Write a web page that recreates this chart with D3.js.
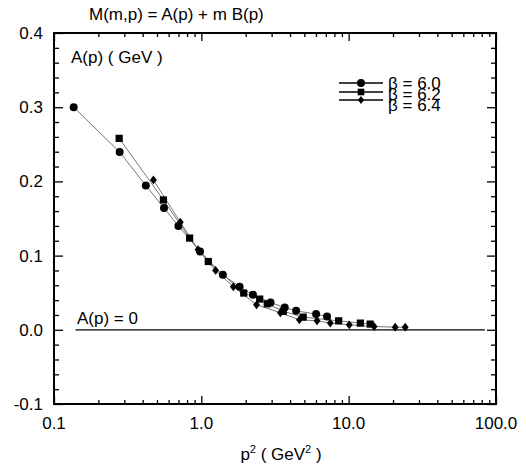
<!DOCTYPE html>
<html>
<head>
<meta charset="utf-8">
<script src="https://cdn.jsdelivr.net/npm/d3@7"></script>
<style>
  body { margin: 0; background: #fff; }
  text { font-family: "Liberation Sans", Arial, sans-serif; fill: #000; }
</style>
</head>
<body>
<div id="chart"></div>
<script>
// beta = 6.0 (circles)
const p2_60 = [0.136, 0.279, 0.42, 0.558, 0.699, 0.98, 1.40, 1.82, 2.24, 2.95, 3.68, 4.40, 6.01, 7.13];
const a_60  = [0.300, 0.2395, 0.1945, 0.164, 0.140, 0.1055, 0.0741, 0.058, 0.0472, 0.0368, 0.030, 0.0256, 0.0212, 0.0179];
// beta = 6.2 (squares)
const p2_62 = [0.277, 0.553, 0.833, 1.115, 1.94, 2.49, 2.80, 3.6, 4.91, 8.55, 12.0, 14.0];
const a_62  = [0.258, 0.175, 0.1236, 0.092, 0.0495, 0.0414, 0.035, 0.025, 0.0171, 0.0121, 0.0090, 0.0077];
// beta = 6.4 (diamonds)
const p2_64 = [0.473, 0.72, 0.95, 1.25, 1.65, 2.37, 3.44, 4.63, 6.10, 7.5, 10.1, 14.9, 20.7, 24.2];
const a_64  = [0.202, 0.145, 0.108, 0.080, 0.058, 0.0337, 0.0229, 0.0135, 0.0121, 0.009, 0.0067, 0.0044, 0.0036, 0.0036];

const xTicks = [0.1, 1, 10, 100];
const xTickLabels = ["0.1", "1.0", "10.0", "100.0"];
const yTicks = [-0.1, 0, 0.1, 0.2, 0.3, 0.4];
const yTickLabels = ["-0.1", "0.0", "0.1", "0.2", "0.3", "0.4"];
const zeroLine = [0.14, 84];
const legendLabels = ["\u03b2 = 6.0", "\u03b2 = 6.2", "\u03b2 = 6.4"];

const width = 526, height = 470;
const mLeft = 54, mRight = 496, mTop = 33, mBottom = 404;
const fs = "17px";

const svg = d3.select("#chart").append("svg")
    .attr("width", width)
    .attr("height", height);

const x = d3.scaleLog().domain([0.1, 100]).range([mLeft, mRight]);
const y = d3.scaleLinear().domain([-0.1, 0.4]).range([mBottom, mTop]);

// minor tick values
const xMinor = [];
[0.1, 1, 10].forEach(d => { for (let k = 2; k <= 9; k++) xMinor.push(d * k); });
const yMinor = d3.range(-0.1, 0.4001, 0.02).filter(v => Math.abs(Math.round(v * 10) - v * 10) > 0.01);

function tickAxis(axisFn, scale, values, size, tf) {
    const g = svg.append("g")
        .attr("transform", tf)
        .call(axisFn(scale).tickValues(values).tickSize(size).tickFormat(""));
    g.select(".domain").remove();
    g.selectAll(".tick line").attr("stroke", "#000").attr("stroke-width", 1.3);
    return g;
}

// inward ticks on all four sides
tickAxis(d3.axisBottom, x, xTicks, -8, `translate(0,${mBottom})`);
tickAxis(d3.axisBottom, x, xMinor, -4, `translate(0,${mBottom})`);
tickAxis(d3.axisTop, x, xTicks, -8, `translate(0,${mTop})`);
tickAxis(d3.axisTop, x, xMinor, -4, `translate(0,${mTop})`);
tickAxis(d3.axisLeft, y, yTicks, -9, `translate(${mLeft},0)`);
tickAxis(d3.axisLeft, y, yMinor, -5, `translate(${mLeft},0)`);
tickAxis(d3.axisRight, y, yTicks, -9, `translate(${mRight},0)`);
tickAxis(d3.axisRight, y, yMinor, -5, `translate(${mRight},0)`);

// frame
svg.append("rect")
    .attr("x", mLeft).attr("y", mTop)
    .attr("width", mRight - mLeft).attr("height", mBottom - mTop)
    .attr("fill", "none").attr("stroke", "#000").attr("stroke-width", 2);

// tick labels
svg.append("g").selectAll("text")
    .data(xTicks)
    .enter().append("text")
    .attr("x", d => x(d))
    .attr("y", 429)
    .attr("text-anchor", "middle")
    .style("font-size", fs)
    .text((d, i) => xTickLabels[i]);

svg.append("g").selectAll("text")
    .data(yTicks)
    .enter().append("text")
    .attr("x", 43)
    .attr("y", d => y(d) + 6)
    .attr("text-anchor", "end")
    .style("font-size", fs)
    .text((d, i) => yTickLabels[i]);

// zero line
svg.append("line")
    .attr("x1", x(zeroLine[0])).attr("x2", x(zeroLine[1]))
    .attr("y1", y(0)).attr("y2", y(0))
    .attr("stroke", "#000").attr("stroke-width", 1.3);

svg.append("text").attr("x", 77).attr("y", 324)
    .style("font-size", fs).text("A(p) = 0");

// wider diamond than d3's default
const diamond = {
    draw(ctx, size) {
        const h = Math.sqrt(size / 1.55), w = h * 0.78;
        ctx.moveTo(0, -h); ctx.lineTo(w, 0); ctx.lineTo(0, h); ctx.lineTo(-w, 0); ctx.closePath();
    }
};

// series
const series = [
    { p2: p2_60, a: a_60, shape: d3.symbolCircle, size: 50, lsize: 50 },
    { p2: p2_62, a: a_62, shape: d3.symbolSquare, size: 52, lsize: 44 },
    { p2: p2_64, a: a_64, shape: diamond, size: 30, lsize: 24 }
];

const line = d3.line().x(d => x(d[0])).y(d => y(d[1]));

series.forEach(s => {
    const pts = s.p2.map((v, i) => [v, s.a[i]]);
    svg.append("path")
        .datum(pts)
        .attr("d", line)
        .attr("fill", "none")
        .attr("stroke", "#777")
        .attr("stroke-width", 1);
});

series.forEach(s => {
    const pts = s.p2.map((v, i) => [v, s.a[i]]);
    svg.append("g").selectAll("path")
        .data(pts)
        .enter().append("path")
        .attr("transform", d => `translate(${x(d[0])},${y(d[1])})`)
        .attr("d", d3.symbol().type(s.shape).size(s.size))
        .attr("fill", "#000");
});

// legend
const legendY = [83, 92, 100];
const textY = [89, 100, 111];
series.forEach((s, i) => {
    svg.append("line")
        .attr("x1", 339).attr("x2", 383)
        .attr("y1", legendY[i]).attr("y2", legendY[i])
        .attr("stroke", "#000").attr("stroke-width", 1.3);
    svg.append("path")
        .attr("transform", `translate(361,${legendY[i]})`)
        .attr("d", d3.symbol().type(s.shape).size(s.lsize))
        .attr("fill", "#000");
    svg.append("text")
        .attr("x", 388).attr("y", textY[i])
        .style("font-size", fs)
        .text(legendLabels[i]);
});

// titles
svg.append("text").attr("x", 89).attr("y", 20)
    .style("font-size", fs).text("M(m,p) = A(p) + m B(p)");

svg.append("text").attr("x", 71).attr("y", 63)
    .style("font-size", fs).text("A(p) ( GeV )");

const xt = svg.append("text").attr("x", 281).attr("y", 460)
    .attr("text-anchor", "middle")
    .style("font-size", fs);
xt.append("tspan").text("p");
xt.append("tspan").attr("dy", -7).style("font-size", "11px").text("2");
xt.append("tspan").attr("dy", 7).text(" ( GeV");
xt.append("tspan").attr("dy", -7).style("font-size", "11px").text("2");
xt.append("tspan").attr("dy", 7).text(" )");
</script>
</body>
</html>
